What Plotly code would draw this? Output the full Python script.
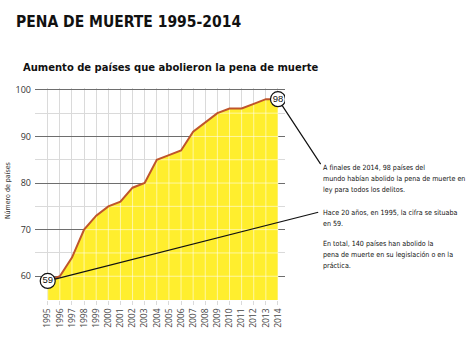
import numpy as np
import plotly.graph_objects as go

years = list(range(1995, 2015))
values = [59, 60, 64, 70, 73, 75, 76, 79, 80, 85, 86, 87, 91, 93, 95, 96, 96, 97, 98, 98]
ytick_vals = [60, 70, 80, 90, 100]
ytick_text = ["60", "70", "80", "90", "100"]
xtick_text = [str(y) for y in years]

title = "PENA DE MUERTE 1995-2014"
subtitle = "Aumento de países que abolieron la pena de muerte"
ytitle = "Número de países"
note_lines = [
    ("A finales de 2014, 98 países del", 167),
    ("mundo habían abolido la pena de muerte en", 178),
    ("ley para todos los delitos.", 189),
    ("Hace 20 años, en 1995, la cifra se situaba", 212),
    ("en 59.", 223),
    ("En total, 140 países han abolido la", 243),
    ("pena de muerte en su legislación o en la", 254),
    ("práctica.", 265),
]

YMIN, YMAX = 54.9, 100.4
XMIN, XMAX = 1993.95, 2014.58
NARROW = "DejaVu Sans Condensed, Liberation Sans Narrow, sans-serif"

fig = go.Figure()

# yellow area
fig.add_trace(go.Scatter(x=years, y=values, mode="lines", line=dict(width=0, color="#FFEE2E"),
                         fill="tozeroy", fillcolor="#FFEE2E", hoverinfo="skip", showlegend=False))

# light grid lines drawn over the yellow area
gx, gy = [], []
for yr, v in zip(years, values):
    gx += [yr, yr, None]
    gy += [YMIN, v, None]
for lvl in range(60, 100, 5):
    if lvl <= min(values):
        xs = years[0]
    else:
        xs = float(np.interp(lvl, values, years))
    gx += [xs, years[-1], None]
    gy += [lvl, lvl, None]
fig.add_trace(go.Scatter(x=gx, y=gy, mode="lines", line=dict(width=1, color="rgba(255,255,255,0.55)"),
                         hoverinfo="skip", showlegend=False))

# orange line
fig.add_trace(go.Scatter(x=years, y=values, mode="lines", line=dict(width=2, color="#BF552B"),
                         hoverinfo="skip", showlegend=False))

# circled end values
fig.add_trace(go.Scatter(x=[years[0], years[-1]], y=[values[0], values[-1]], mode="markers+text",
                         text=[str(values[0]), str(values[-1])], textposition="middle center",
                         textfont=dict(family="Liberation Sans, Arial, sans-serif", size=9.5, color="#111"),
                         marker=dict(size=15, color="white", line=dict(color="#111", width=1.2)),
                         hoverinfo="skip", showlegend=False))

fig.update_xaxes(range=[XMIN, XMAX], tickvals=years, ticktext=xtick_text, tickangle=-90,
                 showgrid=True, gridcolor="#DADADA", gridwidth=1, ticks="outside", ticklen=4,
                 tickcolor="#DADADA", showline=False, zeroline=False,
                 tickfont=dict(family="Open Sans, sans-serif", size=8.5, color="#444"))
fig.update_yaxes(range=[YMIN, YMAX], tickvals=ytick_vals, ticktext=ytick_text,
                 showgrid=True, gridcolor="#6E6E6E", gridwidth=1, ticks="", zeroline=False, showline=False,
                 ticklabelstandoff=3,
                 tickfont=dict(family="Open Sans, sans-serif", size=9, color="#333"),
                 minor=dict(tickvals=list(range(55, 101, 5)), showgrid=True, gridcolor="#DADADA", gridwidth=1))

def px(xp):
    return (xp - 35) / 250.0

def py(yp):
    return (299.7 - yp) / 211.6

ann = []
ann.append(dict(text="<b>" + title + "</b>", xref="paper", yref="paper", x=px(14), y=py(22),
                xanchor="left", yanchor="middle", showarrow=False,
                font=dict(family=NARROW, size=15.5, color="#111")))
ann.append(dict(text="<b>" + subtitle + "</b>", xref="paper", yref="paper", x=px(21), y=py(68),
                xanchor="left", yanchor="middle", showarrow=False,
                font=dict(family=NARROW, size=11.1, color="#111")))
ann.append(dict(text=ytitle, xref="paper", yref="paper", x=px(8), y=py(191), textangle=-90,
                xanchor="center", yanchor="middle", showarrow=False,
                font=dict(family=NARROW, size=7, color="#333")))
for t, yc in note_lines:
    ann.append(dict(text=t, xref="paper", yref="paper", x=px(321), y=py(yc), align="left",
                    xanchor="left", yanchor="middle", showarrow=False,
                    font=dict(family=NARROW, size=7.1, color="#111")))
# leader lines
ann.append(dict(text=" ", x=years[0], y=values[0], xref="x", yref="y", showarrow=True, arrowhead=0,
                arrowwidth=1.2, arrowcolor="#111", ax=272, ay=-69, standoff=7.5, font=dict(size=1)))
ann.append(dict(text=" ", x=years[-1], y=values[-1], xref="x", yref="y", showarrow=True, arrowhead=0,
                arrowwidth=1.2, arrowcolor="#111", ax=44, ay=67, standoff=7.5, font=dict(size=1)))

fig.update_layout(width=474, height=351, margin=dict(l=35, r=189, t=88, b=351 - 88 - 212),
                  plot_bgcolor="white", paper_bgcolor="white", annotations=ann, showlegend=False)

fig.write_html("out.html")
